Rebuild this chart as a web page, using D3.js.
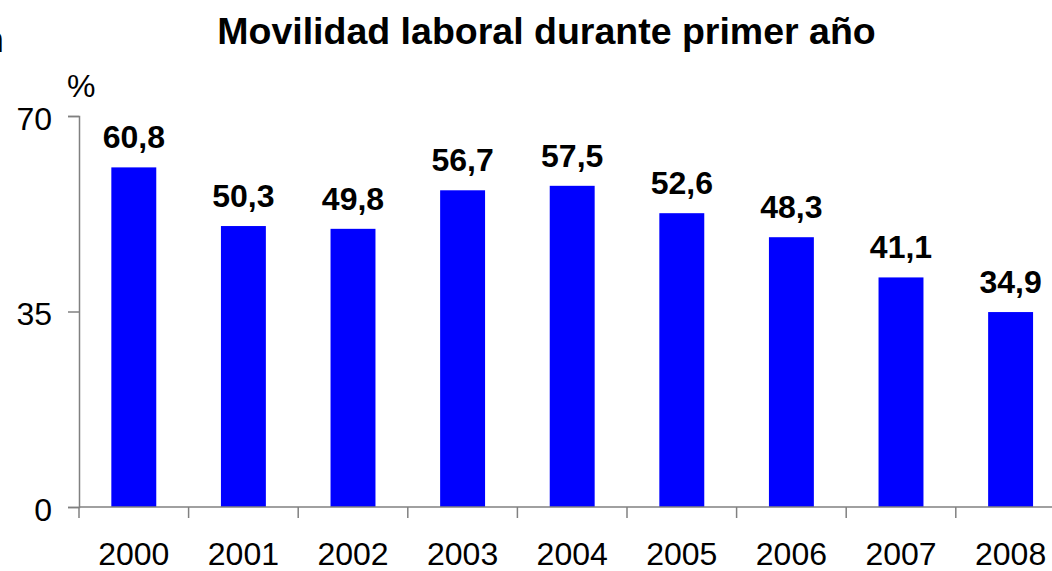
<!DOCTYPE html>
<html>
<head>
<meta charset="utf-8">
<script src="https://cdn.jsdelivr.net/npm/d3@7"></script>
<style>
  body { margin: 0; background: #fff; }
  svg { display: block; font-family: "Liberation Sans", Arial, sans-serif; }
</style>
</head>
<body>
<script>
const years = ['2000', '2001', '2002', '2003', '2004', '2005', '2006', '2007', '2008']
const values = [60.8, 50.3, 49.8, 56.7, 57.5, 52.6, 48.3, 41.1, 34.9]
const yTicks = [0, 35, 70]

const width = 1052
const height = 571
const left = 79
const zeroY = 507
const topY = 116
const step = 109.6

const svg = d3.select('body').append('svg')
  .attr('width', width).attr('height', height)
  .attr('xmlns', 'http://www.w3.org/2000/svg')

const x = d3.scaleBand()
  .domain(years)
  .range([left, left + step * years.length])
  .paddingInner(0.59)
  .paddingOuter(0.295)

const y = d3.scaleLinear().domain([0, 70]).range([zeroY, topY])

// bars
svg.selectAll('rect.bar')
  .data(values)
  .enter()
  .append('rect')
  .attr('class', 'bar')
  .attr('x', (d, i) => x(years[i]))
  .attr('y', d => y(d))
  .attr('width', x.bandwidth())
  .attr('height', d => zeroY - y(d))
  .attr('fill', '#0000ff')

// value labels
svg.selectAll('text.val')
  .data(values)
  .enter()
  .append('text')
  .attr('class', 'val')
  .attr('x', (d, i) => x(years[i]) + x.bandwidth() / 2)
  .attr('y', d => y(d) - 19)
  .attr('text-anchor', 'middle')
  .style('font-size', '32px')
  .style('font-weight', 'bold')
  .text(d => d.toFixed(1).replace('.', ','))

// y axis
const yAxis = svg.append('g')
  .attr('transform', `translate(${left},0)`)
  .call(d3.axisLeft(y).tickValues(yTicks).tickSize(11).tickPadding(16))
yAxis.select('.domain').attr('stroke', '#808080').attr('stroke-width', 1.5)
yAxis.selectAll('.tick line').attr('stroke', '#808080').attr('stroke-width', 1.5)
yAxis.selectAll('.tick text')
  .attr('fill', '#000')
  .attr('dy', '0.42em')
  .style('font-size', '32px')
  .style('font-family', '"Liberation Sans", Arial, sans-serif')

// x axis line with ticks at band boundaries
const gap = (x.step() - x.bandwidth()) / 2
svg.append('line')
  .attr('x1', left).attr('x2', width)
  .attr('y1', zeroY).attr('y2', zeroY)
  .attr('stroke', '#808080').attr('stroke-width', 1.5)
svg.selectAll('line.xtick')
  .data(years)
  .enter()
  .append('line')
  .attr('class', 'xtick')
  .attr('x1', d => x(d) - gap).attr('x2', d => x(d) - gap)
  .attr('y1', zeroY).attr('y2', zeroY + 11)
  .attr('stroke', '#808080').attr('stroke-width', 1.5)

svg.selectAll('text.year')
  .data(years)
  .enter()
  .append('text')
  .attr('class', 'year')
  .attr('x', d => x(d) + x.bandwidth() / 2)
  .attr('y', 565)
  .attr('text-anchor', 'middle')
  .style('font-size', '32px')
  .text(d => d)

// unit
svg.append('text')
  .attr('x', 67)
  .attr('y', 97)
  .style('font-size', '32px')
  .text('%')

// title
svg.append('text')
  .attr('x', 546.5)
  .attr('y', 44)
  .attr('text-anchor', 'middle')
  .style('font-size', '37.5px')
  .style('font-weight', 'bold')
  .text('Movilidad laboral durante primer año')

// clipped stray glyph at left edge
svg.append('text')
  .attr('x', 4)
  .attr('y', 52)
  .attr('text-anchor', 'end')
  .style('font-size', '37.5px')
  .style('font-weight', 'bold')
  .text('n')
</script>
</body>
</html>
